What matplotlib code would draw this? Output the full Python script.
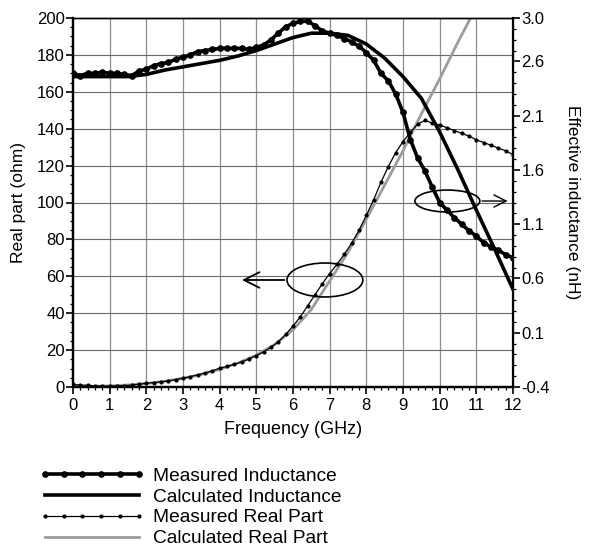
import numpy as np
import matplotlib
matplotlib.use("Agg")
import matplotlib.pyplot as plt
from matplotlib.patches import Ellipse
from matplotlib.ticker import MultipleLocator, FixedLocator

plt.rcParams['font.family'] = ['Liberation Sans', 'DejaVu Sans']

# ---------------- data ----------------
freq_meas_L = [round(0.2 * i, 1) for i in range(61)]
meas_inductance = [2.49, 2.47, 2.49, 2.49, 2.50, 2.49, 2.49, 2.48, 2.47, 2.51,
                   2.53, 2.56, 2.58, 2.59, 2.62, 2.64, 2.66, 2.69, 2.70, 2.71,
                   2.72, 2.72, 2.72, 2.72, 2.71, 2.73, 2.75, 2.80, 2.86, 2.92,
                   2.95, 2.97, 2.97, 2.93, 2.88, 2.86, 2.84, 2.81, 2.78, 2.74,
                   2.68, 2.61, 2.49, 2.42, 2.30, 2.13, 1.88, 1.71, 1.59, 1.44,
                   1.30, 1.23, 1.16, 1.10, 1.04, 0.99, 0.93, 0.89, 0.86, 0.82,
                   0.79]

freq_calc_L = [0, 0.5, 1, 1.5, 2, 2.5, 3, 3.5, 4, 4.5, 5, 5.5, 6, 6.5, 7, 7.5,
               8, 8.5, 9, 9.5, 10, 10.5, 11, 11.5, 12]
calc_inductance = [2.46, 2.46, 2.46, 2.46, 2.48, 2.52, 2.55, 2.58, 2.61, 2.65,
                   2.70, 2.76, 2.82, 2.86, 2.86, 2.84, 2.76, 2.63, 2.46, 2.26,
                   1.95, 1.60, 1.23, 0.87, 0.50]

freq_meas_R = [round(0.2 * i, 1) for i in range(61)]
meas_real = [1.5, 1.0, 1.0, 0.5, 0.5, 0.5, 0.5, 0.8, 1.0, 1.5,
             2.0, 2.4, 2.8, 3.3, 4.0, 4.8, 5.6, 6.6, 7.6, 8.8,
             10.2, 11.2, 12.3, 13.5, 15.2, 17.0, 19.0, 21.5, 24.5, 28.5,
             33.0, 38.0, 44.0, 50.0, 56.0, 61.5, 66.5, 72.0, 78.0, 85.0,
             93.0, 101.5, 111.0, 119.5, 127.0, 133.0, 138.0, 142.5, 144.5, 143.0,
             142.0, 140.5, 139.0, 137.5, 136.0, 134.0, 132.5, 131.0, 129.5, 128.0,
             126.0]

freq_calc_R = [0, 0.5, 1, 1.5, 2, 2.5, 3, 3.5, 4, 4.5, 5, 5.5, 6, 6.5, 7, 7.5,
               8, 8.5, 9, 9.5, 10, 10.5, 11]
calc_real = [0.3, 0.4, 0.6, 1.1, 1.9, 3.1, 4.7, 6.8, 9.5, 13.0, 17.3, 23.0,
             31.0, 42.0, 57.5, 73.0, 91.0, 109.5, 128.0, 148.0, 167.0, 187.0,
             206.0]

x_ticks = list(range(0, 13))
left_ticks = list(range(0, 201, 20))
right_ticks = [-0.4, 0.1, 0.6, 1.1, 1.6, 2.1, 2.6, 3.0]
right_tick_labels = ["-0.4", "0.1", "0.6", "1.1", "1.6", "2.1", "2.6", "3.0"]

labels = ["Measured Inductance", "Calculated Inductance",
          "Measured Real Part", "Calculated Real Part"]

# annotation geometry (data coords of left axis)
left_ellipse = (6.87, 58, 2.07, 18.4)
left_arrow = ((5.84, 58), (4.53, 58))
right_ellipse = (10.21, 100.8, 1.77, 11.9)
right_arrow = ((11.08, 100.8), (11.93, 100.8))

# ---------------- figure ----------------
fig = plt.figure(figsize=(5.93, 5.55), dpi=100)
ax = fig.add_axes([73 / 593, 1 - 387 / 555, 440 / 593, 369 / 555])
ax2 = ax.twinx()

ax.set_xlim(0, 12)
ax.set_ylim(0, 200)
ax2.set_ylim(-0.4, 3.0)

# grid
for xv in x_ticks[1:-1]:
    ax.axvline(xv, color='#8f8f8f', lw=0.9, zorder=0)
for yv in left_ticks[1:-1]:
    ax.axhline(yv, color='#6a6a6a', lw=0.8, zorder=0)

# real part on left axis
l4, = ax.plot(freq_calc_R, calc_real, color='#9c9c9c', lw=2.0, zorder=2)
l3, = ax.plot(freq_meas_R, meas_real, color='black', lw=0.9, marker='o',
              markersize=2.0, zorder=3)

# inductance on right axis
l2, = ax2.plot(freq_calc_L, calc_inductance, color='black', lw=2.6, zorder=3)
l1, = ax2.plot(freq_meas_L, meas_inductance, color='black', lw=2.6, marker='o',
               markersize=3.8, zorder=4)

# ellipses and arrows
for (cx, cy, w, h) in (left_ellipse, right_ellipse):
    ax.add_patch(Ellipse((cx, cy), w, h, fill=False, lw=1.2, edgecolor='black', zorder=5))
ax.annotate('', xy=left_arrow[1], xytext=left_arrow[0],
            arrowprops=dict(arrowstyle='->', lw=1.3, mutation_scale=28, color='black'))
ax.annotate('', xy=right_arrow[1], xytext=right_arrow[0],
            arrowprops=dict(arrowstyle='->', lw=1.0, mutation_scale=22, color='black'))

# ticks
ax.set_xticks(x_ticks)
ax.set_xticklabels([str(t) for t in x_ticks])
ax.set_yticks(left_ticks)
ax.set_yticklabels([str(t) for t in left_ticks])
ax.xaxis.set_minor_locator(MultipleLocator(0.2))
ax.yaxis.set_minor_locator(MultipleLocator(5))
ax2.yaxis.set_major_locator(FixedLocator(right_ticks))
ax2.set_yticklabels(right_tick_labels)
ax2.yaxis.set_minor_locator(MultipleLocator(0.1))

for a in (ax, ax2):
    a.tick_params(which='major', direction='out', length=5, width=1.2,
                  labelsize=12, pad=1)
    a.tick_params(which='minor', direction='out', length=2.5, width=0.9)
ax.tick_params(axis='x', which='major', pad=3)

for s in ('left', 'bottom'):
    ax.spines[s].set_linewidth(1.6)
ax2.spines['right'].set_linewidth(1.6)
ax2.spines['left'].set_linewidth(1.6)
ax2.spines['bottom'].set_linewidth(1.6)
ax.spines['top'].set_linewidth(1.0)
ax2.spines['top'].set_linewidth(1.0)

ax.set_xlabel("Frequency (GHz)", fontsize=13, labelpad=6)
ax.set_ylabel("Real part (ohm)", fontsize=12.5, labelpad=8)
ax2.set_ylabel("Effective inductance (nH)", fontsize=12.5, rotation=270, labelpad=22)

fig.legend([l1, l2, l3, l4], labels, loc='upper left',
           bbox_to_anchor=(0.066, 0.158), frameon=False, fontsize=13.8,
           handlelength=5.5, handletextpad=0.45, labelspacing=0.18,
           borderpad=0, borderaxespad=0, numpoints=6)

fig.savefig("out.png", dpi=100)
